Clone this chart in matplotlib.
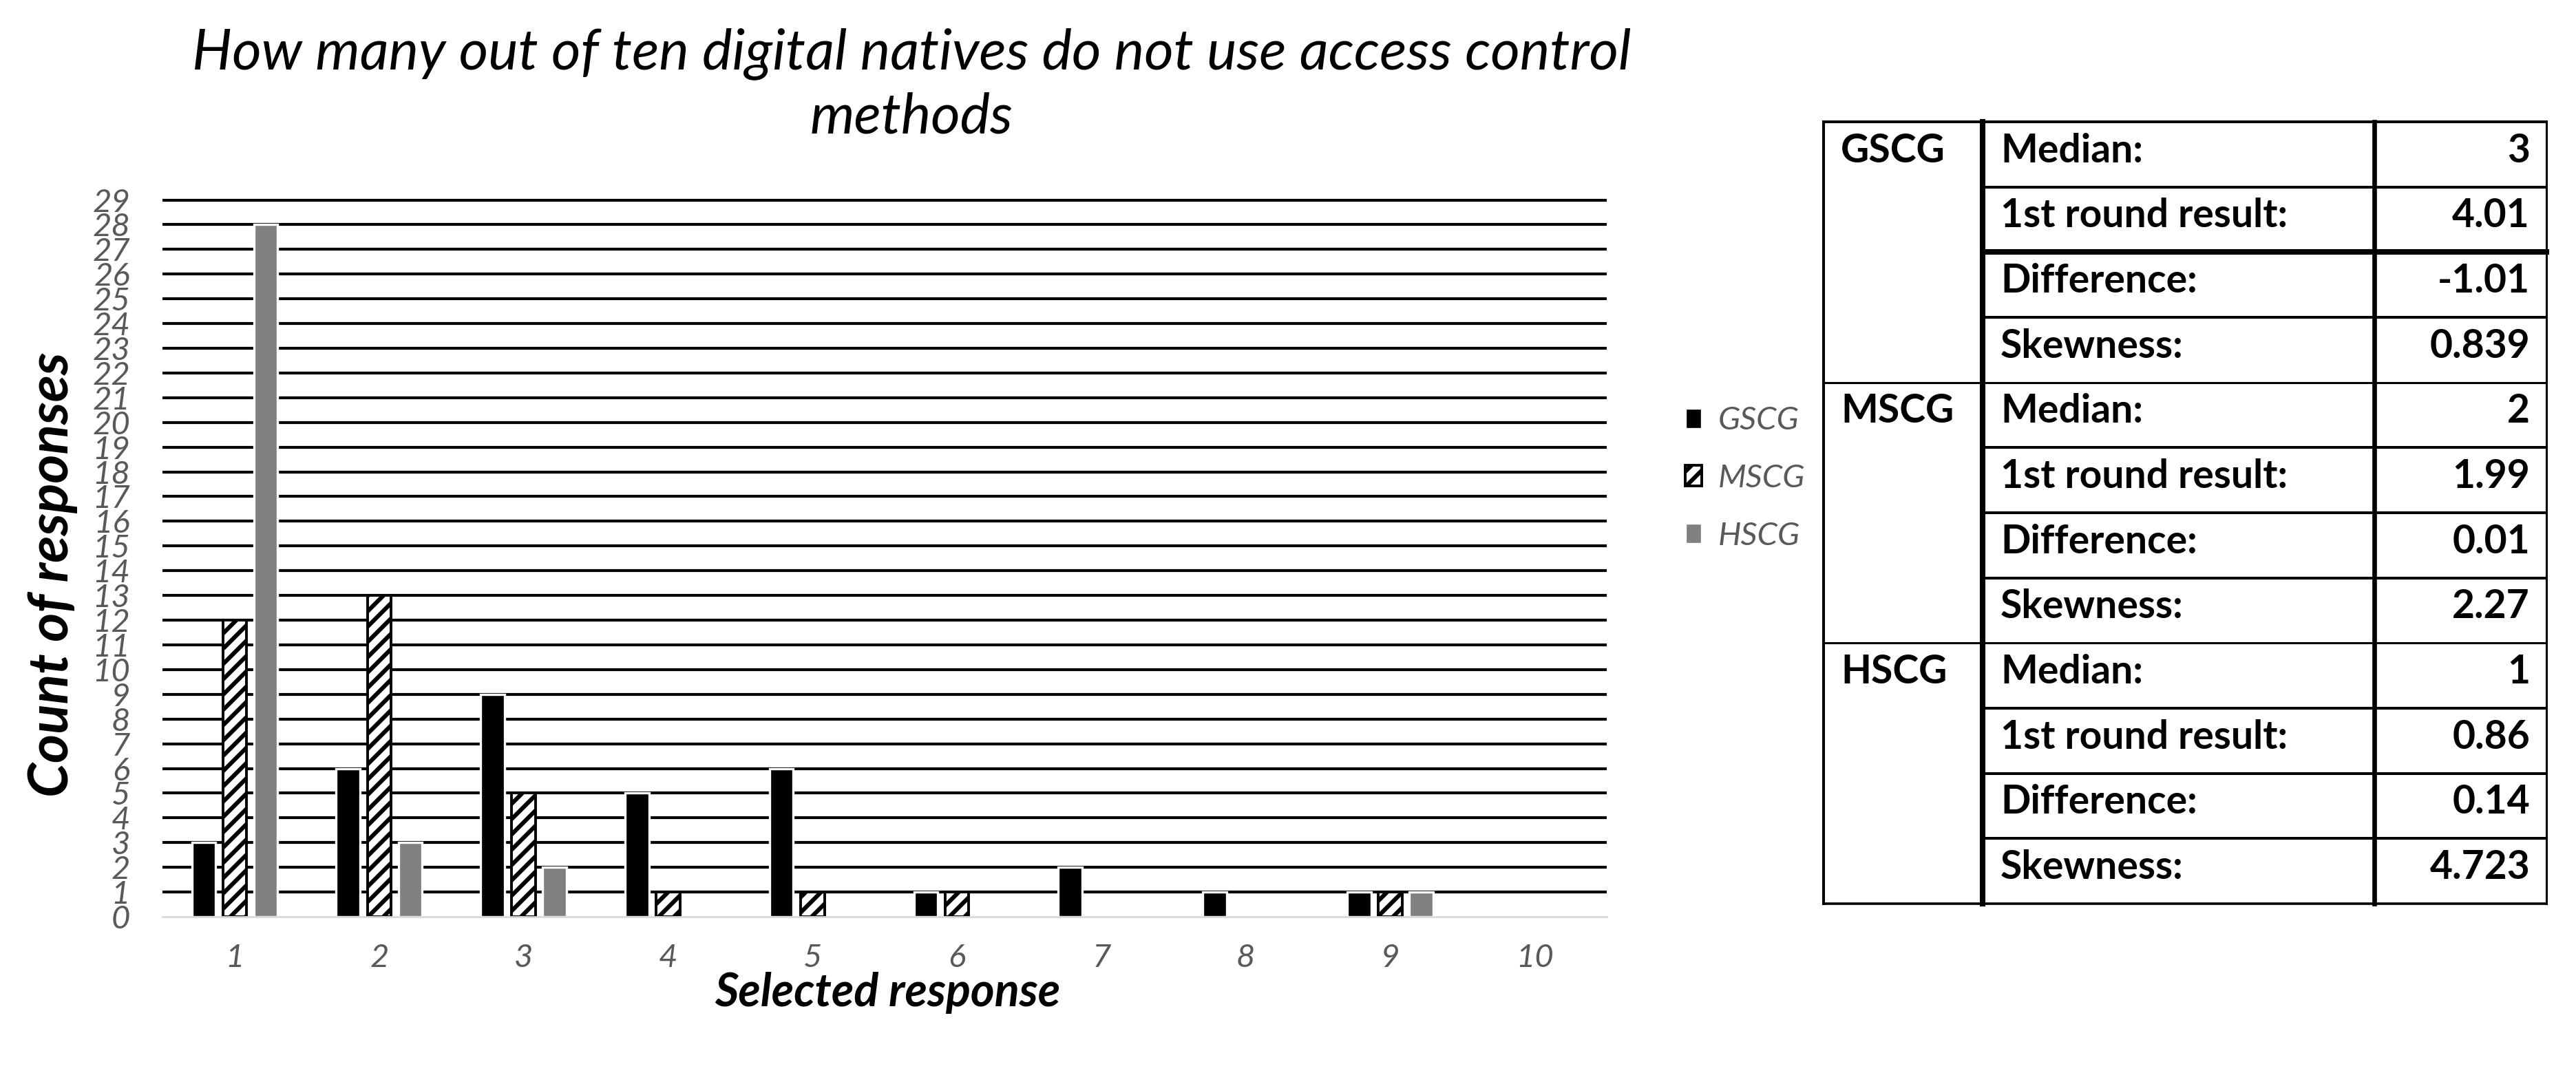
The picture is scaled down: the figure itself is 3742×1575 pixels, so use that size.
import matplotlib.pyplot as plt
import numpy as np

plt.rcParams['font.family'] = ['Lato', 'DejaVu Sans']
plt.rcParams['hatch.linewidth'] = 2.2

# data
responses = [1, 2, 3, 4, 5, 6, 7, 8, 9, 10]
groups = ["GSCG", "MSCG", "HSCG"]
gscg = [3, 6, 9, 5, 6, 1, 2, 1, 1, 0]
mscg = [12, 13, 5, 1, 1, 1, 0, 0, 1, 0]
hscg = [28, 3, 2, 0, 0, 0, 0, 0, 1, 0]

stat_names = ["Median:", "1st round result:", "Difference:", "Skewness:"]
gscg_stats = ["3", "4.01", "-1.01", "0.839"]
mscg_stats = ["2", "1.99", "0.01", "2.27"]
hscg_stats = ["1", "0.86", "0.14", "4.723"]

fig = plt.figure(figsize=(18.71, 7.875), dpi=200)
ax = fig.add_axes([0.0631, 0.1543, 0.5607, 0.6635])

x = np.array(responses)
w = 0.165
off = 0.215
b1 = ax.bar(x - off, gscg, w, color="black", edgecolor="white", linewidth=1.2,
            label="GSCG", zorder=3)
b2 = ax.bar(x, mscg, w, color="white", edgecolor="black", hatch="///", linewidth=1.4,
            label="MSCG", zorder=3)
b3 = ax.bar(x + off, hscg, w, color="#808080", edgecolor="white", linewidth=1.2,
            label="HSCG", zorder=3)
# hide empty bars so their outline does not show on the baseline
for bars in (b1, b2, b3):
    for p in bars.patches:
        if p.get_height() == 0:
            p.set_visible(False)

ax.set_xlim(0.5, 10.5)
ax.set_ylim(0, 29.1)
ax.set_xticks(responses)
ax.set_yticks(range(0, 30))
ax.yaxis.grid(True, color="black", linewidth=1.5)
ax.set_axisbelow(True)
ax.get_ygridlines()[0].set_visible(False)

for s in ["top", "right", "left"]:
    ax.spines[s].set_visible(False)
ax.spines["bottom"].set_color("#d9d9d9")
ax.spines["bottom"].set_linewidth(1.0)
ax.spines["bottom"].set_zorder(4)

ax.tick_params(axis="both", length=0, labelsize=17, labelcolor="#595959")
ax.tick_params(axis="y", pad=17)
ax.tick_params(axis="x", pad=14)
for lbl in ax.get_xticklabels() + ax.get_yticklabels():
    lbl.set_fontstyle("italic")

ax.set_title("How many out of ten digital natives do not use access control\nmethods",
             x=0.5186, y=1.156, pad=0, va="center", fontsize=29.5,
             fontstyle="italic", linespacing=1.3)
ax.set_xlabel("Selected response", fontsize=24, fontweight="bold",
              fontstyle="italic", va="center")
ax.xaxis.set_label_coords(0.502, -0.1053)
ax.set_ylabel("Count of responses", fontsize=29, fontweight="bold",
              fontstyle="italic", va="center")
ax.yaxis.set_label_coords(-0.0763, 0.4756)

fig.legend(loc="center left", bbox_to_anchor=(0.648, 0.5587), frameon=False,
           prop={"size": 17, "style": "italic"}, labelcolor="#595959",
           handlelength=0.5, handleheight=0.6, handletextpad=0.5,
           labelspacing=0.88, borderpad=0)

# statistics table on the right
tax = fig.add_axes([0.7079, 0.1663, 0.2806, 0.7213])
tax.set_xlim(0, 1050)
tax.set_ylim(12, 0)
tax.axis("off")

c1, c2, c3 = 0, 231, 800
c4 = 1050
for r in range(1, 12):
    if r % 4 == 0:
        tax.plot([c1, c4], [r, r], color="black", lw=1.1, clip_on=False)
    else:
        tax.plot([c2, c4], [r, r], color="black", lw=2.9 if r == 2 else 1.45,
                 clip_on=False)
tax.plot([c1, c4], [0, 0], color="black", lw=1.45, clip_on=False)
tax.plot([c1, c4], [12, 12], color="black", lw=1.3, clip_on=False)
tax.plot([c1, c1], [0, 12], color="black", lw=1.45, clip_on=False)
tax.plot([c2, c2], [0, 12], color="black", lw=2.9, clip_on=False)
tax.plot([c3, c3], [0, 12], color="black", lw=2.4, clip_on=False)
tax.plot([c4, c4], [0, 12], color="black", lw=1.1, clip_on=False)

for g, (name, stats) in enumerate(zip(groups, [gscg_stats, mscg_stats, hscg_stats])):
    tax.text(25, 4 * g + 0.62, name, fontsize=20.5, fontweight="bold", va="baseline")
    for i in range(4):
        tax.text(257, 4 * g + i + 0.62, stat_names[i], fontsize=20.5,
                 fontweight="bold", va="baseline")
        tax.text(1026, 4 * g + i + 0.62, stats[i], fontsize=20.5,
                 fontweight="bold", va="baseline", ha="right")

fig.savefig("out.png", dpi=200)
